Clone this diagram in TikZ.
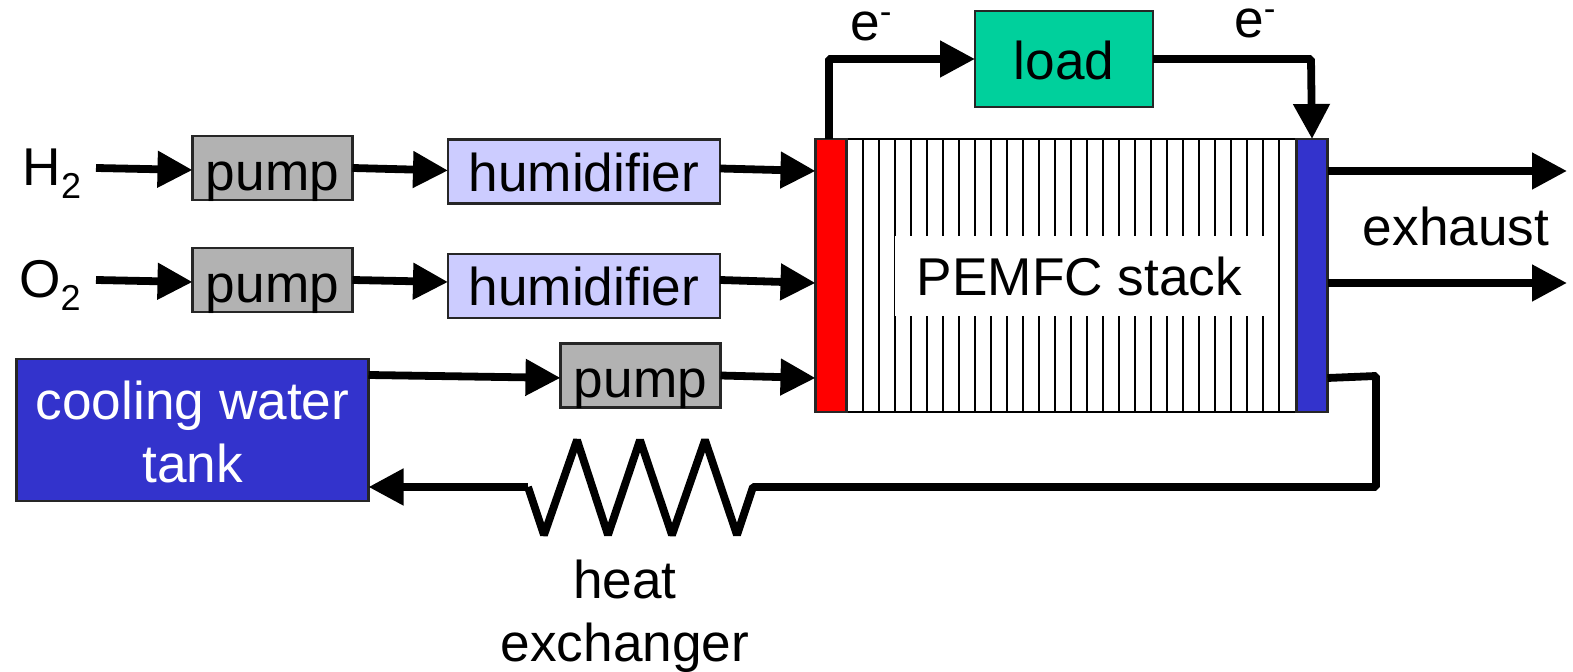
\documentclass[tikz,border=0pt]{standalone}
\usepackage{fontspec}
\setmainfont{Liberation Sans}
\usetikzlibrary{arrows.meta}
\newcommand{\subtwo}{\raisebox{-6.5pt}{\fontsize{18}{20}\selectfont 2}}
\newcommand{\supminus}{\raisebox{8.5pt}{\fontsize{17.5}{20}\selectfont -}}
\tikzset{
  every node/.style={inner sep=0pt,outer sep=0pt,font=\fontsize{26.6}{31.7}\selectfont,text=black},
  boxbase/.style={draw=black!85,line width=1.2pt,rectangle},
  pumpbox/.style={boxbase,fill=pumpgray,minimum width=80pt,minimum height=32pt,text height=22.5pt,text depth=0pt},
  humbox/.style={boxbase,fill=humblue,minimum width=136pt,minimum height=32pt,text height=20pt,text depth=0pt},
  loadbox/.style={boxbase,fill=loadgreen,minimum width=89pt,minimum height=48pt,text height=21pt,text depth=0pt},
  tankbox/.style={boxbase,fill=tankblue,minimum width=176pt,minimum height=71pt,text=white,align=center},
  endplate/.style={boxbase,minimum width=15.5pt,minimum height=136.5pt},
  stackbox/.style={draw=black,line width=1.2pt,fill=white,minimum width=256.5pt,minimum height=136.5pt},
  cellline/.style={draw=black,line width=1pt},
  flow/.style={draw=black,line width=3.9pt,line join=bevel,-{Triangle[length=17.5pt,width=17.5pt]}},
  plainflow/.style={draw=black,line width=3.9pt,line join=bevel},
  freelabel/.style={anchor=base},
}
\definecolor{pumpgray}{RGB}{178,178,178}
\definecolor{humblue}{RGB}{204,204,255}
\definecolor{loadgreen}{RGB}{0,208,156}
\definecolor{tankblue}{RGB}{51,51,204}
\begin{document}
\begin{tikzpicture}[x=0.5pt,y=-0.5pt]
\useasboundingbox (0,0) rectangle (1573,672);
% stack
\node[stackbox] (stack) at (1071.5,275.5) {};
\foreach \i in {0,...,26}{
  \draw[cellline] ({863+16*\i},139) -- ({863+16*\i},412);
}
\node[fill=white,minimum width=184.5pt,minimum height=40pt,text height=20pt,text depth=0pt] (stacklabel) at (1079.5,276) {PEMFC stack};
\node[endplate,fill=red] (anode) at (831,275.5) {};
\node[endplate,fill=tankblue] (cathode) at (1312,275.5) {};
% boxes
\node[pumpbox] (p1) at (272.5,168) {pump};
\node[pumpbox] (p2) at (272.5,280) {pump};
\node[pumpbox] (p3) at (640.5,375.5) {pump};
\node[humbox] (h1) at (584,171.5) {humidifier};
\node[humbox] (h2) at (584,286) {humidifier};
\node[loadbox] (load) at (1064,59) {load};
\node[tankbox] (tank) at (192.5,430) {\rule{0pt}{21.5pt}cooling water\\[0pt]tank};
% free labels
\node[freelabel] (hyd) at (52,186) {H\subtwo};
\node[freelabel] (oxy) at (50,298) {O\subtwo};
\node[freelabel] (e1) at (871,41) {e\supminus};
\node[freelabel] (e2) at (1255,37.5) {e\supminus};
\node[freelabel] (exh) at (1456,246) {exhaust};
\node[align=center] (hx) at (625,616) {heat\\exchanger};
% free ends
\coordinate (hydout) at (96,168);
\coordinate (oxyout) at (96,280);
\coordinate (exout1) at (1567,171);
\coordinate (exout2) at (1567,283);
\coordinate (cornerA) at (829,59);
\coordinate (cornerB) at (1311,59);
\coordinate (cornerC) at (1376,376);
\coordinate (cornerD) at (1376,487);
% connectors
\draw[flow] (hydout) -- ([yshift=-1pt]p1.west);
\draw[flow] (oxyout) -- ([yshift=-1pt]p2.west);
\draw[flow] (p1.east) -- ([yshift=0.5pt]h1.west);
\draw[flow] (p2.east) -- ([yshift=2pt]h2.west);
\draw[flow] ([yshift=1.5pt]h1.east) -- (anode.west |- 0,171);
\draw[flow] ([yshift=3pt]h2.east) -- (anode.west |- 0,283);
\draw[flow] (tank.east |- 0,375) -- ([yshift=-1.2pt]p3.west);
\draw[flow] (p3.east) -- (anode.west |- 0,378);
\draw[flow] (cathode.east |- 0,171) -- (exout1);
\draw[flow] (cathode.east |- 0,283) -- (exout2);
\draw[flow] (anode.north -| cornerA) -- (cornerA) -- (load.west);
\draw[flow] (load.east) -- (cornerB) -- (cathode.north);
\draw[plainflow] (cathode.east |- 0,378) -- (cornerC) -- (cornerD) -- (753,487)
  -- (737,535) -- (705,440) -- (672,535) -- (640,440) -- (608,535) -- (577,440) -- (544,535) -- (528,487);
\draw[flow] (528,487) -- (tank.east |- 0,487);
\end{tikzpicture}
\end{document}
